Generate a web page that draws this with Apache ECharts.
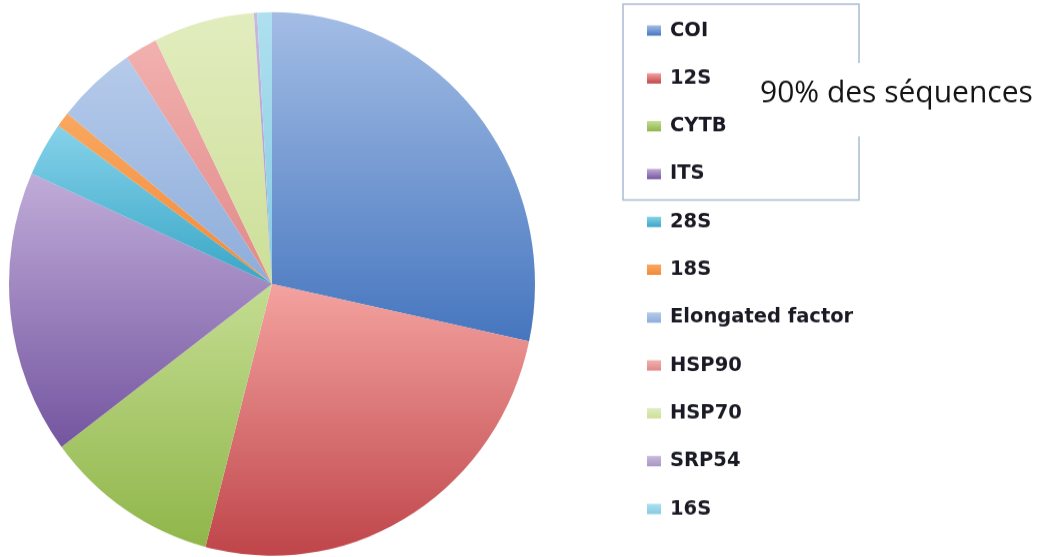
<!DOCTYPE html>
<html>
<head>
<meta charset="utf-8">
<script src="https://cdn.jsdelivr.net/npm/echarts@6/dist/echarts.min.js"></script>
<style>
  html, body { margin: 0; padding: 0; background: #ffffff; overflow: hidden; }
  #wrap { width: 1038px; height: 557px; overflow: hidden; }
  /* the chart is drawn slightly compressed and stretched back vertically,
     so the pie comes out as a gently tall ellipse */
  #chart { width: 1038px; height: 539px; transform: scaleY(1.0334); transform-origin: 0 0; }
</style>
</head>
<body>
<div id="wrap"><div id="chart"></div></div>
<script>
// Genetic markers and their share of the sequences (%)
const markers = ['COI', '12S', 'CYTB', 'ITS', '28S', '18S', 'Elongated factor', 'HSP90', 'HSP70', 'SRP54', '16S'];
const shares = [28.4, 25.7, 10.7, 16.9, 3.25, 0.9, 4.9, 2.0, 6.2, 0.2, 0.9];

// Fill of each slice: light at the top, full colour at the bottom
const topColors = ['#a3bde5', '#f4a3a0', '#c4dd92', '#c0acd8', '#86d2ea', '#f9a860', '#b6cbeb', '#f2b1af', '#e2edbf', '#c8b9dd', '#aee0f0'];
const bottomColors = ['#4676bf', '#bf454a', '#90b64a', '#7455a0', '#38a6c6', '#f28a38', '#8dadda', '#e08a89', '#cddf98', '#a896c4', '#86cbe2'];

const chart = echarts.init(document.getElementById('chart'), null, { renderer: 'canvas' });

const pieData = markers.map((name, i) => ({
  name: name,
  value: shares[i],
  itemStyle: {
    color: {
      type: 'linear', x: 0, y: 0, x2: 0, y2: 1,
      colorStops: [
        { offset: 0, color: topColors[i] },
        { offset: 1, color: bottomColors[i] }
      ]
    }
  }
}));

chart.setOption({
  animation: false,
  backgroundColor: '#ffffff',
  legend: {
    orient: 'vertical',
    left: 647,
    top: 18.5,
    padding: 0,
    itemWidth: 14,
    itemHeight: 10,
    itemGap: 24.3,
    icon: 'rect',
    selectedMode: false,
    textStyle: {
      fontFamily: 'DejaVu Sans',
      fontWeight: 'bold',
      fontSize: 19.5,
      lineHeight: 22,
      color: '#1a1a24',
      padding: [0, 0, 0, 4]
    },
    data: markers
  },
  graphic: [
    {
      type: 'rect',
      shape: { x: 623, y: 4, width: 236, height: 189.5 },
      style: { fill: 'none', stroke: '#a9bcd2', lineWidth: 1.5 },
      z: 1
    },
    {
      type: 'rect',
      shape: { x: 745, y: 61, width: 293, height: 71 },
      style: { fill: '#ffffff' },
      z: 2
    },
    {
      type: 'text',
      left: 760,
      top: 75,
      style: {
        text: '90% des séquences',
        fontFamily: 'Open Sans',
        fontSize: 30,
        fill: '#141414'
      },
      z: 3
    }
  ],
  series: [
    {
      type: 'pie',
      center: [272, 274.8],
      radius: [0, 263],
      startAngle: 90,
      clockwise: true,
      avoidLabelOverlap: false,
      label: { show: false },
      labelLine: { show: false },
      emphasis: { disabled: true },
      itemStyle: { borderWidth: 0 },
      data: pieData
    }
  ]
});
</script>
</body>
</html>
